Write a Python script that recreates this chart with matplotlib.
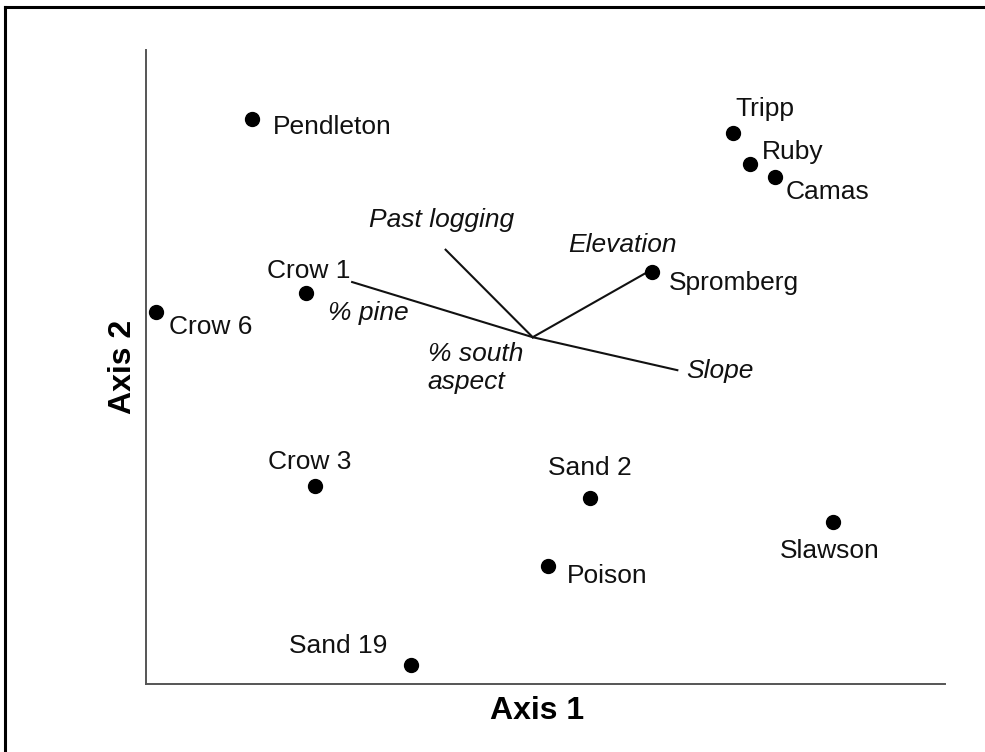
import matplotlib.pyplot as plt
from matplotlib.lines import Line2D

plt.rcParams['font.family'] = ['Liberation Sans', 'DejaVu Sans']

# Scores des sites (unités arbitraires)
sites = ["Pendleton", "Tripp", "Ruby", "Camas", "Spromberg", "Crow 1",
         "Crow 6", "Crow 3", "Sand 2", "Slawson", "Poison", "Sand 19"]
axis1 = [13.3, 73.5, 75.6, 78.7, 63.3, 20.0, 1.3, 21.2, 55.6, 86.0, 50.3, 33.2]
axis2 = [89.1, 86.9, 82.0, 80.0, 65.0, 61.7, 58.7, 31.2, 29.3, 25.6, 18.6, 3.0]

# Vecteurs environnementaux (origine commune)
centre = (48.4, 54.7)
variables = ["Past logging", "Elevation", "% pine", "Slope", "% south\naspect"]
var_x = [37.5, 62.8, 25.8, 66.5, 48.4]
var_y = [68.5, 65.0, 63.4, 49.5, 54.7]

# Décalages des étiquettes (pixels) et alignement
site_off = {
    "Pendleton": (21, -8, "left"), "Tripp": (2, 24, "left"), "Ruby": (12, 12, "left"),
    "Camas": (11, -15, "left"), "Spromberg": (17, -11, "left"), "Crow 1": (3, 22, "center"),
    "Crow 6": (13, -15, "left"), "Crow 3": (-6, 24, "center"), "Sand 2": (0, 30, "center"),
    "Slawson": (-3, -29, "center"), "Poison": (19, -10, "left"), "Sand 19": (-24, 19, "right"),
}
var_off = {
    "Past logging": (-4, 30, "center"), "Elevation": (-25, 27, "center"),
    "% pine": (16, -31, "center"), "Slope": (9, -1, "left"), "% south\naspect": (-105, -31, "left"),
}

fig = plt.figure(figsize=(9.85, 7.52), dpi=100)
ax = fig.add_axes([146/985, 1 - 684/752, 799/985, 634/752])
ax.set_xlim(0, 100)
ax.set_ylim(0, 100)

px = 72 / 100  # pixels -> points

for vx, vy, name in zip(var_x, var_y, variables):
    if (vx, vy) != centre:
        ax.plot([centre[0], vx], [centre[1], vy], color="#111111", lw=1.5, zorder=2)
    dx, dy, ha = var_off[name]
    ax.annotate(name, (vx, vy), xytext=(dx * px, dy * px), textcoords="offset points",
                ha=ha, va="center", fontsize=19, style="italic", color="#111111",
                linespacing=1.2)

ax.scatter(axis1, axis2, s=100, color="black", zorder=3, clip_on=False)
for x, y, name in zip(axis1, axis2, sites):
    dx, dy, ha = site_off[name]
    ax.annotate(name, (x, y), xytext=(dx * px, dy * px), textcoords="offset points",
                ha=ha, va="center", fontsize=19, color="#111111")

for side in ["top", "right"]:
    ax.spines[side].set_visible(False)
for side in ["left", "bottom"]:
    ax.spines[side].set_color("#555555")
    ax.spines[side].set_linewidth(1.4)
ax.set_xticks([])
ax.set_yticks([])
ax.set_xlabel("Axis 1", fontsize=23, fontweight="bold")
ax.set_ylabel("Axis 2", fontsize=23, fontweight="bold", labelpad=6)
ax.xaxis.set_label_coords((537 - 146) / 799, -0.019)

# cadre partiel autour de la figure
fig.add_artist(Line2D([5/985, 1], [1 - 7/752] * 2, color="black", lw=2.2))
fig.add_artist(Line2D([5/985] * 2, [0, 1 - 7/752], color="black", lw=2.2))

fig.savefig("out.png", dpi=100)
